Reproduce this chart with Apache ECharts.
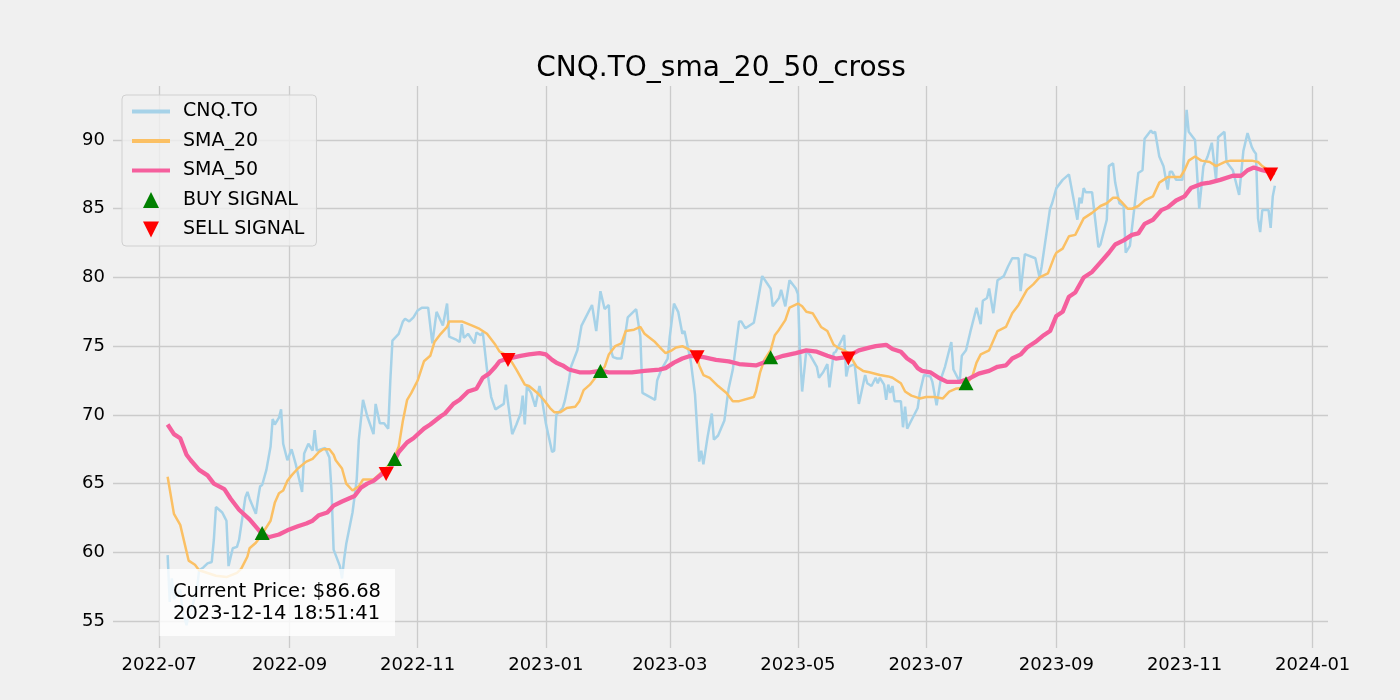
<!DOCTYPE html>
<html>
<head>
<meta charset="utf-8">
<title>CNQ.TO_sma_20_50_cross</title>
<script src="https://cdn.jsdelivr.net/npm/echarts@6/dist/echarts.min.js"></script>
<style>
  html, body { margin: 0; padding: 0; background: #f0f0f0; }
  #chart { width: 1400px; height: 700px; }
</style>
</head>
<body>
<div id="chart"></div>
<script>
// closing price
const cnqPrice = [
  ['2022-07-05', 59.8], ['2022-07-06', 56.4], ['2022-07-07', 58.1], ['2022-07-08', 56.6], ['2022-07-11', 57.3],
  ['2022-07-12', 55.8], ['2022-07-14', 54.7], ['2022-07-15', 55.5], ['2022-07-17', 56.2], ['2022-07-19', 57.4],
  ['2022-07-20', 58.7], ['2022-07-22', 58.9], ['2022-07-24', 59.2], ['2022-07-26', 59.3], ['2022-07-27', 60.9],
  ['2022-07-28', 63.3], ['2022-07-31', 62.9], ['2022-08-01', 62.6], ['2022-08-02', 62.3], ['2022-08-03', 59.0],
  ['2022-08-05', 60.3], ['2022-08-07', 60.4], ['2022-08-08', 60.9], ['2022-08-11', 64.0], ['2022-08-12', 64.4],
  ['2022-08-13', 63.9], ['2022-08-16', 62.8], ['2022-08-17', 63.9], ['2022-08-18', 64.8], ['2022-08-19', 64.9],
  ['2022-08-21', 66.0], ['2022-08-23', 67.7], ['2022-08-24', 69.7], ['2022-08-25', 69.3], ['2022-08-27', 69.8],
  ['2022-08-28', 70.4], ['2022-08-29', 67.9], ['2022-08-31', 66.7], ['2022-09-02', 67.5], ['2022-09-04', 66.4],
  ['2022-09-07', 64.4], ['2022-09-08', 67.2], ['2022-09-10', 67.9], ['2022-09-12', 67.4], ['2022-09-13', 68.9],
  ['2022-09-14', 67.4], ['2022-09-18', 67.6], ['2022-09-20', 66.9], ['2022-09-21', 64.5], ['2022-09-22', 60.2],
  ['2022-09-25', 59.0], ['2022-09-26', 58.1], ['2022-09-27', 59.5], ['2022-09-28', 60.6], ['2022-10-01', 62.9],
  ['2022-10-03', 65.3], ['2022-10-04', 68.2], ['2022-10-06', 71.1], ['2022-10-08', 69.9], ['2022-10-11', 68.6],
  ['2022-10-12', 70.8], ['2022-10-14', 69.4], ['2022-10-16', 69.4], ['2022-10-18', 69.0], ['2022-10-19', 72.5],
  ['2022-10-20', 75.4], ['2022-10-23', 75.9], ['2022-10-25', 76.8], ['2022-10-26', 77.0], ['2022-10-28', 76.8],
  ['2022-10-30', 77.1], ['2022-11-01', 77.6], ['2022-11-03', 77.8], ['2022-11-06', 77.8], ['2022-11-08', 75.2],
  ['2022-11-10', 77.5], ['2022-11-13', 76.5], ['2022-11-15', 78.1], ['2022-11-16', 75.7], ['2022-11-19', 75.5],
  ['2022-11-21', 75.3], ['2022-11-22', 76.6], ['2022-11-23', 75.6], ['2022-11-25', 75.9], ['2022-11-28', 75.2],
  ['2022-11-29', 76.0], ['2022-12-01', 75.8], ['2022-12-02', 76.0], ['2022-12-04', 73.3], ['2022-12-06', 71.3],
  ['2022-12-08', 70.4], ['2022-12-12', 70.8], ['2022-12-13', 72.2], ['2022-12-14', 70.9], ['2022-12-16', 68.6],
  ['2022-12-18', 69.3], ['2022-12-20', 70.1], ['2022-12-21', 71.4], ['2022-12-22', 69.3], ['2022-12-23', 72.1],
  ['2022-12-25', 71.6], ['2022-12-27', 70.6], ['2022-12-29', 72.1], ['2022-12-30', 71.3], ['2023-01-01', 69.4],
  ['2023-01-04', 67.3], ['2023-01-05', 67.4], ['2023-01-06', 70.0], ['2023-01-09', 70.5], ['2023-01-10', 71.0],
  ['2023-01-12', 72.5], ['2023-01-13', 73.5], ['2023-01-16', 74.7], ['2023-01-18', 76.5], ['2023-01-20', 77.1],
  ['2023-01-23', 78.0], ['2023-01-25', 76.1], ['2023-01-27', 79.0], ['2023-01-29', 77.7], ['2023-01-31', 78.0],
  ['2023-02-01', 74.7], ['2023-02-02', 74.2], ['2023-02-04', 74.1], ['2023-02-06', 74.1], ['2023-02-07', 75.0],
  ['2023-02-09', 77.1], ['2023-02-13', 77.7], ['2023-02-15', 75.7], ['2023-02-16', 71.6], ['2023-02-22', 71.1],
  ['2023-02-23', 72.5], ['2023-02-25', 73.3], ['2023-02-28', 74.1], ['2023-03-01', 75.7], ['2023-03-03', 78.1],
  ['2023-03-05', 77.5], ['2023-03-07', 75.9], ['2023-03-08', 76.1], ['2023-03-11', 73.9], ['2023-03-13', 71.5],
  ['2023-03-15', 66.6], ['2023-03-16', 67.4], ['2023-03-17', 66.4], ['2023-03-19', 68.4], ['2023-03-21', 70.1],
  ['2023-03-22', 68.2], ['2023-03-24', 68.5], ['2023-03-27', 69.6], ['2023-03-29', 71.9], ['2023-03-31', 73.3],
  ['2023-04-03', 76.8], ['2023-04-04', 76.8], ['2023-04-06', 76.3], ['2023-04-10', 76.7], ['2023-04-11', 77.5],
  ['2023-04-14', 80.1], ['2023-04-18', 79.2], ['2023-04-19', 77.9], ['2023-04-22', 78.5], ['2023-04-23', 79.1],
  ['2023-04-25', 77.9], ['2023-04-27', 79.8], ['2023-04-30', 79.2], ['2023-05-01', 78.8], ['2023-05-02', 74.5],
  ['2023-05-03', 71.7], ['2023-05-05', 74.7], ['2023-05-07', 74.3], ['2023-05-10', 73.5], ['2023-05-11', 72.7],
  ['2023-05-13', 73.1], ['2023-05-15', 73.7], ['2023-05-16', 72.0], ['2023-05-18', 74.5], ['2023-05-19', 74.6],
  ['2023-05-22', 75.5], ['2023-05-23', 75.8], ['2023-05-24', 72.8], ['2023-05-25', 73.5], ['2023-05-28', 73.7],
  ['2023-05-30', 70.8], ['2023-06-02', 72.9], ['2023-06-03', 72.3], ['2023-06-05', 72.1], ['2023-06-07', 72.7],
  ['2023-06-08', 72.3], ['2023-06-09', 72.7], ['2023-06-11', 72.2], ['2023-06-12', 71.1], ['2023-06-13', 72.2],
  ['2023-06-14', 71.6], ['2023-06-15', 72.1], ['2023-06-16', 71.0], ['2023-06-19', 71.0], ['2023-06-20', 69.1],
  ['2023-06-21', 70.6], ['2023-06-22', 69.0], ['2023-06-25', 69.9], ['2023-06-27', 70.5], ['2023-06-28', 71.6],
  ['2023-06-30', 72.9], ['2023-07-03', 72.8], ['2023-07-04', 72.4], ['2023-07-06', 70.7], ['2023-07-08', 72.6],
  ['2023-07-10', 73.5], ['2023-07-13', 75.3], ['2023-07-14', 73.3], ['2023-07-17', 72.4], ['2023-07-18', 74.3],
  ['2023-07-20', 74.7], ['2023-07-22', 76.0], ['2023-07-25', 77.8], ['2023-07-27', 76.6], ['2023-07-28', 78.3],
  ['2023-07-30', 78.5], ['2023-07-31', 79.2], ['2023-08-02', 77.4], ['2023-08-04', 79.8], ['2023-08-07', 80.1],
  ['2023-08-09', 80.8], ['2023-08-11', 81.4], ['2023-08-14', 81.4], ['2023-08-15', 79.0], ['2023-08-17', 81.7],
  ['2023-08-22', 81.4], ['2023-08-24', 80.0], ['2023-08-25', 80.8], ['2023-08-27', 82.9], ['2023-08-29', 85.0],
  ['2023-08-30', 85.4], ['2023-09-01', 86.5], ['2023-09-04', 87.1], ['2023-09-07', 87.5], ['2023-09-11', 84.2],
  ['2023-09-12', 85.8], ['2023-09-13', 85.4], ['2023-09-14', 86.5], ['2023-09-15', 86.2], ['2023-09-18', 86.2],
  ['2023-09-21', 82.2], ['2023-09-22', 82.4], ['2023-09-25', 84.2], ['2023-09-26', 88.1], ['2023-09-28', 88.3],
  ['2023-09-29', 86.9], ['2023-10-01', 85.4], ['2023-10-03', 85.2], ['2023-10-04', 81.8], ['2023-10-06', 82.3],
  ['2023-10-08', 84.9], ['2023-10-10', 87.6], ['2023-10-12', 87.8], ['2023-10-13', 90.1], ['2023-10-16', 90.7],
  ['2023-10-17', 90.5], ['2023-10-18', 90.6], ['2023-10-20', 88.8], ['2023-10-22', 88.1], ['2023-10-24', 86.4],
  ['2023-10-25', 87.7], ['2023-10-26', 87.7], ['2023-10-28', 87.1], ['2023-10-31', 87.1], ['2023-11-02', 92.2],
  ['2023-11-03', 90.6], ['2023-11-06', 90.0], ['2023-11-08', 85.0], ['2023-11-10', 88.1], ['2023-11-12', 88.8],
  ['2023-11-14', 89.8], ['2023-11-16', 87.1], ['2023-11-17', 90.2], ['2023-11-20', 90.6], ['2023-11-21', 88.4],
  ['2023-11-24', 87.8], ['2023-11-27', 86.0], ['2023-11-29', 89.2], ['2023-12-01', 90.5], ['2023-12-03', 89.5],
  ['2023-12-04', 89.2], ['2023-12-05', 89.0], ['2023-12-06', 84.3], ['2023-12-07', 83.3], ['2023-12-08', 84.9],
  ['2023-12-11', 84.9], ['2023-12-12', 83.6], ['2023-12-13', 85.9], ['2023-12-14', 86.68]
];

// 20 day moving average
const sma20 = [
  ['2022-07-05', 65.5], ['2022-07-08', 62.8], ['2022-07-11', 62.0], ['2022-07-15', 59.4], ['2022-07-18', 59.1],
  ['2022-07-20', 58.7], ['2022-07-28', 58.3], ['2022-08-02', 58.2], ['2022-08-07', 58.5], ['2022-08-09', 58.8],
  ['2022-08-12', 59.7], ['2022-08-13', 60.3], ['2022-08-16', 60.7], ['2022-08-18', 61.1], ['2022-08-23', 62.3],
  ['2022-08-25', 63.6], ['2022-08-27', 64.3], ['2022-08-29', 64.5], ['2022-08-31', 65.2], ['2022-09-02', 65.6],
  ['2022-09-05', 66.1], ['2022-09-09', 66.6], ['2022-09-12', 66.8], ['2022-09-15', 67.3], ['2022-09-17', 67.5],
  ['2022-09-20', 67.5], ['2022-09-22', 67.1], ['2022-09-23', 66.7], ['2022-09-26', 66.1], ['2022-09-28', 65.0],
  ['2022-10-01', 64.5], ['2022-10-04', 64.8], ['2022-10-06', 65.3], ['2022-10-11', 65.3], ['2022-10-14', 65.7],
  ['2022-10-16', 66.0], ['2022-10-20', 66.6], ['2022-10-23', 67.7], ['2022-10-25', 69.6], ['2022-10-27', 71.1],
  ['2022-10-29', 71.6], ['2022-11-01', 72.5], ['2022-11-04', 73.9], ['2022-11-07', 74.3], ['2022-11-09', 75.3],
  ['2022-11-12', 75.9], ['2022-11-15', 76.4], ['2022-11-16', 76.8], ['2022-11-22', 76.8], ['2022-11-27', 76.5],
  ['2022-11-30', 76.3], ['2022-12-04', 75.9], ['2022-12-08', 75.1], ['2022-12-10', 74.6], ['2022-12-14', 74.3],
  ['2022-12-18', 73.3], ['2022-12-22', 72.2], ['2022-12-24', 72.1], ['2022-12-28', 71.6], ['2022-12-31', 71.1],
  ['2023-01-03', 70.5], ['2023-01-05', 70.2], ['2023-01-08', 70.2], ['2023-01-11', 70.5], ['2023-01-15', 70.6],
  ['2023-01-17', 71.0], ['2023-01-19', 71.8], ['2023-01-22', 72.2], ['2023-01-25', 72.8], ['2023-01-29', 73.5],
  ['2023-01-31', 74.4], ['2023-02-03', 75.0], ['2023-02-06', 75.2], ['2023-02-08', 76.1], ['2023-02-12', 76.2],
  ['2023-02-15', 76.4], ['2023-02-17', 75.9], ['2023-02-22', 75.3], ['2023-02-25', 74.8], ['2023-02-27', 74.5],
  ['2023-03-02', 74.7], ['2023-03-04', 74.9], ['2023-03-07', 75.0], ['2023-03-11', 74.7], ['2023-03-14', 74.2],
  ['2023-03-15', 73.6], ['2023-03-17', 72.9], ['2023-03-20', 72.7], ['2023-03-24', 72.1], ['2023-03-28', 71.6],
  ['2023-03-31', 71.0], ['2023-04-03', 71.0], ['2023-04-10', 71.3], ['2023-04-11', 71.7], ['2023-04-13', 73.1],
  ['2023-04-15', 74.0], ['2023-04-18', 74.7], ['2023-04-20', 75.8], ['2023-04-22', 76.2], ['2023-04-25', 76.9],
  ['2023-04-27', 77.8], ['2023-05-01', 78.1], ['2023-05-03', 77.9], ['2023-05-05', 77.5], ['2023-05-08', 77.4],
  ['2023-05-12', 76.4], ['2023-05-15', 76.1], ['2023-05-18', 75.1], ['2023-05-20', 74.9], ['2023-05-23', 74.7],
  ['2023-05-25', 74.5], ['2023-05-29', 73.5], ['2023-06-01', 73.2], ['2023-06-04', 73.1], ['2023-06-09', 72.9],
  ['2023-06-13', 72.8], ['2023-06-15', 72.7], ['2023-06-19', 72.3], ['2023-06-21', 71.7], ['2023-06-24', 71.4],
  ['2023-06-28', 71.2], ['2023-07-01', 71.3], ['2023-07-05', 71.3], ['2023-07-09', 71.2], ['2023-07-12', 71.7],
  ['2023-07-15', 71.9], ['2023-07-19', 72.0], ['2023-07-23', 72.8], ['2023-07-25', 73.8], ['2023-07-27', 74.4],
  ['2023-07-31', 74.7], ['2023-08-04', 76.1], ['2023-08-08', 76.4], ['2023-08-11', 77.4], ['2023-08-14', 78.0],
  ['2023-08-18', 79.1], ['2023-08-21', 79.5], ['2023-08-24', 80.0], ['2023-08-28', 80.3], ['2023-08-31', 81.5],
  ['2023-09-01', 81.8], ['2023-09-04', 82.1], ['2023-09-07', 83.0], ['2023-09-10', 83.1], ['2023-09-14', 84.3],
  ['2023-09-18', 84.7], ['2023-09-22', 85.2], ['2023-09-25', 85.4], ['2023-09-28', 85.8], ['2023-09-30', 85.8],
  ['2023-10-02', 85.5], ['2023-10-05', 85.0], ['2023-10-07', 85.0], ['2023-10-10', 85.2], ['2023-10-13', 85.6],
  ['2023-10-17', 85.9], ['2023-10-20', 86.9], ['2023-10-24', 87.3], ['2023-10-26', 87.3], ['2023-10-30', 87.3],
  ['2023-11-01', 87.8], ['2023-11-03', 88.5], ['2023-11-06', 88.8], ['2023-11-09', 88.5], ['2023-11-13', 88.4],
  ['2023-11-16', 88.1], ['2023-11-20', 88.4], ['2023-11-23', 88.5], ['2023-11-29', 88.5], ['2023-12-03', 88.5],
  ['2023-12-06', 88.4], ['2023-12-08', 88.1], ['2023-12-11', 87.8], ['2023-12-14', 87.5]
];

// 50 day moving average
const sma50 = [
  ['2022-07-05', 69.3], ['2022-07-08', 68.6], ['2022-07-11', 68.3], ['2022-07-14', 67.1], ['2022-07-16', 66.7],
  ['2022-07-20', 66.0], ['2022-07-24', 65.6], ['2022-07-27', 65.0], ['2022-08-01', 64.6], ['2022-08-04', 63.9],
  ['2022-08-08', 63.1], ['2022-08-13', 62.4], ['2022-08-18', 61.5], ['2022-08-22', 61.1], ['2022-08-27', 61.3],
  ['2022-08-31', 61.6], ['2022-09-05', 61.9], ['2022-09-09', 62.1], ['2022-09-12', 62.3], ['2022-09-15', 62.7],
  ['2022-09-19', 62.9], ['2022-09-22', 63.4], ['2022-09-26', 63.7], ['2022-09-29', 63.9], ['2022-10-02', 64.1],
  ['2022-10-05', 64.7], ['2022-10-08', 65.0], ['2022-10-11', 65.2], ['2022-10-15', 65.7], ['2022-10-19', 66.1],
  ['2022-10-23', 67.3], ['2022-10-27', 68.0], ['2022-10-30', 68.3], ['2022-11-04', 69.0], ['2022-11-07', 69.3],
  ['2022-11-12', 69.9], ['2022-11-14', 70.1], ['2022-11-18', 70.8], ['2022-11-21', 71.1], ['2022-11-25', 71.7],
  ['2022-11-29', 71.9], ['2022-12-02', 72.7], ['2022-12-05', 73.0], ['2022-12-08', 73.5], ['2022-12-10', 73.9],
  ['2022-12-14', 74.1], ['2022-12-20', 74.3], ['2022-12-24', 74.4], ['2022-12-29', 74.5], ['2023-01-01', 74.4],
  ['2023-01-04', 74.0], ['2023-01-06', 73.8], ['2023-01-09', 73.6], ['2023-01-12', 73.3], ['2023-01-17', 73.1],
  ['2023-01-22', 73.1], ['2023-01-27', 73.2], ['2023-01-31', 73.1], ['2023-02-05', 73.1], ['2023-02-11', 73.1],
  ['2023-02-17', 73.2], ['2023-02-24', 73.3], ['2023-02-27', 73.4], ['2023-03-03', 73.8], ['2023-03-07', 74.1],
  ['2023-03-11', 74.3], ['2023-03-17', 74.2], ['2023-03-23', 74.0], ['2023-03-29', 73.9], ['2023-04-03', 73.7],
  ['2023-04-11', 73.6], ['2023-04-18', 74.0], ['2023-04-24', 74.3], ['2023-04-30', 74.5], ['2023-05-05', 74.7],
  ['2023-05-10', 74.6], ['2023-05-15', 74.3], ['2023-05-19', 74.1], ['2023-05-24', 74.2], ['2023-05-30', 74.7],
  ['2023-06-04', 74.9], ['2023-06-07', 75.0], ['2023-06-12', 75.1], ['2023-06-15', 74.8], ['2023-06-19', 74.6],
  ['2023-06-22', 74.1], ['2023-06-25', 73.8], ['2023-06-27', 73.4], ['2023-06-29', 73.2], ['2023-07-03', 73.1],
  ['2023-07-07', 72.7], ['2023-07-11', 72.4], ['2023-07-17', 72.4], ['2023-07-21', 72.6], ['2023-07-26', 73.0],
  ['2023-07-31', 73.2], ['2023-08-04', 73.5], ['2023-08-08', 73.6], ['2023-08-11', 74.1], ['2023-08-15', 74.4],
  ['2023-08-18', 74.9], ['2023-08-22', 75.3], ['2023-08-26', 75.8], ['2023-08-29', 76.1], ['2023-09-01', 77.2],
  ['2023-09-04', 77.5], ['2023-09-07', 78.6], ['2023-09-10', 78.9], ['2023-09-14', 80.0], ['2023-09-18', 80.4],
  ['2023-09-22', 81.1], ['2023-09-26', 81.8], ['2023-09-29', 82.4], ['2023-10-03', 82.7], ['2023-10-07', 83.1],
  ['2023-10-10', 83.2], ['2023-10-13', 83.9], ['2023-10-17', 84.2], ['2023-10-21', 84.9], ['2023-10-24', 85.1],
  ['2023-10-28', 85.6], ['2023-11-01', 85.9], ['2023-11-04', 86.5], ['2023-11-09', 86.8], ['2023-11-13', 86.9],
  ['2023-11-18', 87.1], ['2023-11-24', 87.4], ['2023-11-28', 87.4], ['2023-12-01', 87.8], ['2023-12-04', 88.0],
  ['2023-12-08', 87.8], ['2023-12-11', 87.7], ['2023-12-14', 87.6]
];

// crossover markers
const buySignals = [
  ['2022-08-19', 61.4], ['2022-10-21', 66.8], ['2023-01-27', 73.2], ['2023-04-18', 74.2], ['2023-07-20', 72.3]
];
const sellSignals = [
  ['2022-10-17', 65.7], ['2022-12-14', 74.0], ['2023-03-14', 74.2], ['2023-05-25', 74.1], ['2023-12-12', 87.5]
];

const monthTicks = [
  '2022-07-01', '2022-09-01', '2022-11-01', '2023-01-01', '2023-03-01',
  '2023-05-01', '2023-07-01', '2023-09-01', '2023-11-01', '2024-01-01'
];

const lastStamp = '2023-12-14 18:51:41';

const FONT = 'DejaVu Sans';
const GRID_COLOR = '#cbcbcb';
const UP_TRIANGLE = 'path://M1,0L2,2L0,2Z';
const DOWN_TRIANGLE = 'path://M0,0L2,0L1,2Z';

// dates -> utc millis so the x axis can be a plain value axis with our own month ticks
function toMs(s) {
  const p = s.split('-').map(Number);
  return Date.UTC(p[0], p[1] - 1, p[2]);
}
function withMs(rows) {
  return rows.map(r => [toMs(r[0]), r[1]]);
}
function monthLabel(v) {
  return new Date(v).toISOString().slice(0, 7);
}

const chart = echarts.init(document.getElementById('chart'), null, { renderer: 'canvas' });

const lastPrice = cnqPrice[cnqPrice.length - 1][1];
const tickMs = monthTicks.map(toMs);

// line entries in the legend: just the stroke, no dot in the middle
const lineItem = name => ({ name: name, itemStyle: { opacity: 0 }, lineStyle: { width: 4 } });

const option = {
  backgroundColor: '#f0f0f0',
  animation: false,
  title: {
    text: 'CNQ.TO_sma_20_50_cross',
    left: 716,
    top: 50,
    textAlign: 'center',
    textStyle: { fontFamily: FONT, fontSize: 28, fontWeight: 'normal', color: '#000' }
  },
  grid: { left: 113, right: 72, top: 86, bottom: 52, containLabel: false },
  legend: {
    orient: 'vertical',
    left: 122,
    top: 95,
    padding: [7, 12, 7, 8],
    itemWidth: 38,
    itemHeight: 16,
    itemGap: 10.5,
    backgroundColor: 'rgba(240,240,240,0.8)',
    borderColor: '#d0d0d0',
    borderWidth: 1,
    borderRadius: 4,
    symbolKeepAspect: true,
    textStyle: { fontFamily: FONT, fontSize: 19, color: '#000', lineHeight: 19, padding: [0, 0, 0, 8] },
    data: [
      lineItem('CNQ.TO'), lineItem('SMA_20'), lineItem('SMA_50'),
      { name: 'BUY SIGNAL' }, { name: 'SELL SIGNAL' }
    ]
  },
  xAxis: {
    type: 'value',
    min: Date.UTC(2022, 5, 9),
    max: Date.UTC(2024, 0, 8, 7),
    axisLine: { show: false },
    axisTick: { show: false, customValues: tickMs },
    axisLabel: {
      customValues: tickMs,
      formatter: monthLabel,
      fontFamily: FONT, fontSize: 18, color: '#000', margin: 8
    },
    splitLine: { show: true, lineStyle: { color: GRID_COLOR, width: 1.3 } }
  },
  yAxis: {
    type: 'value',
    min: 53.04,
    max: 93.93,
    splitNumber: 8,
    axisLine: { show: false },
    axisTick: { show: false },
    axisLabel: { showMinLabel: false, showMaxLabel: false, fontFamily: FONT, fontSize: 18, color: '#000', margin: 8 },
    splitLine: { show: true, showMinLine: false, showMaxLine: false, lineStyle: { color: GRID_COLOR, width: 1.3 } }
  },
  series: [
    {
      name: 'CNQ.TO', type: 'line', data: withMs(cnqPrice),
      symbol: 'none', lineStyle: { color: '#a6d2e8', width: 2.5 }, itemStyle: { color: '#a6d2e8' },
      emphasis: { disabled: true }, z: 2
    },
    {
      name: 'SMA_20', type: 'line', data: withMs(sma20),
      symbol: 'none', lineStyle: { color: '#fbc064', width: 2.5 }, itemStyle: { color: '#fbc064' },
      emphasis: { disabled: true }, z: 3
    },
    {
      name: 'SMA_50', type: 'line', data: withMs(sma50),
      symbol: 'none', lineStyle: { color: '#f55f9d', width: 4.3 }, itemStyle: { color: '#f55f9d' },
      emphasis: { disabled: true }, z: 4
    },
    {
      name: 'BUY SIGNAL', type: 'scatter', data: withMs(buySignals),
      symbol: UP_TRIANGLE, symbolSize: [15, 14], itemStyle: { color: '#008000', opacity: 1 },
      emphasis: { disabled: true }, z: 5
    },
    {
      name: 'SELL SIGNAL', type: 'scatter', data: withMs(sellSignals),
      symbol: DOWN_TRIANGLE, symbolSize: [15, 14], itemStyle: { color: '#ff0000', opacity: 1 },
      emphasis: { disabled: true }, z: 5
    }
  ],
  graphic: [
    {
      type: 'rect', z: 100,
      shape: { x: 159.5, y: 569, width: 235.5, height: 67 },
      style: { fill: 'rgba(255,255,255,0.8)' }
    },
    {
      type: 'text', z: 101, x: 173, y: 602.5,
      style: {
        text: 'Current Price: $' + lastPrice.toFixed(2) + '\n' + lastStamp,
        fontFamily: FONT, fontSize: 19.5, fill: '#000', verticalAlign: 'middle', lineHeight: 22
      }
    }
  ]
};

chart.setOption(option);
</script>
</body>
</html>
